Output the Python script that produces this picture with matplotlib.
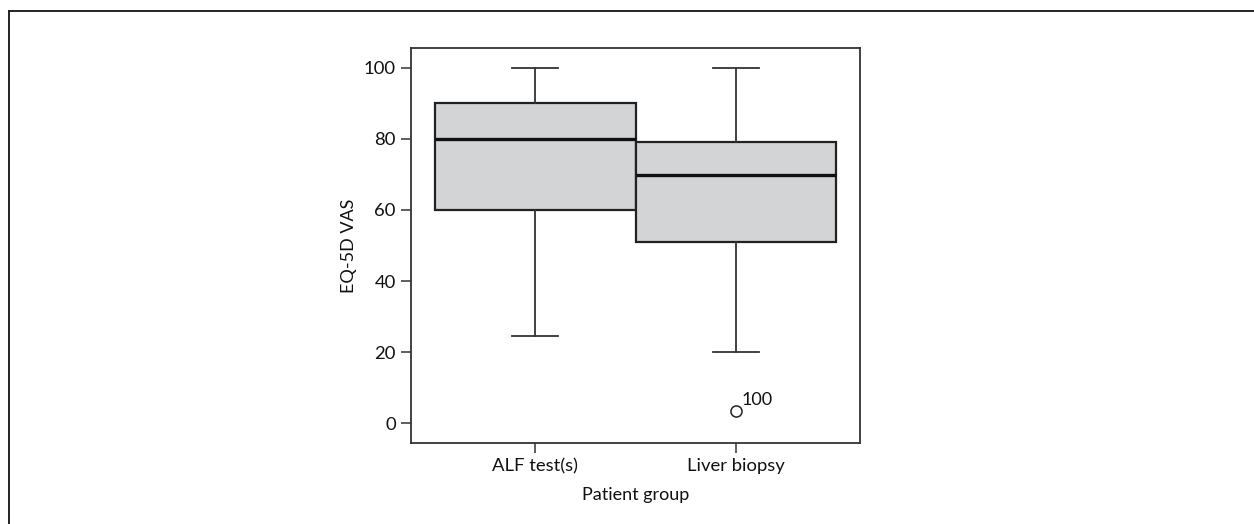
import matplotlib
matplotlib.use("Agg")
import matplotlib.pyplot as plt
from matplotlib.lines import Line2D

plt.rcParams['font.family'] = ['Lato', 'DejaVu Sans']

# box summary values
groups = ["ALF test(s)", "Liver biopsy"]
q1 = [60, 51]
med = [80, 69.8]
q3 = [90, 79]
whislo = [24.6, 20]
whishi = [100, 100]
fliers = [[], [3.4]]
flier_labels = [[], ["100"]]
yticks = [0, 20, 40, 60, 80, 100]

stats = []
for i in range(len(groups)):
    stats.append(dict(label=groups[i], q1=q1[i], med=med[i], q3=q3[i],
                      whislo=whislo[i], whishi=whishi[i], fliers=fliers[i]))

fig = plt.figure(figsize=(12.54, 5.24), dpi=100)
ax = fig.add_axes([0.3278, 0.1546, 0.358, 0.7538])

edge = '#222222'
ax.bxp(stats, positions=[1, 2], widths=1.0, capwidths=0.23, patch_artist=True,
       boxprops=dict(facecolor='#d3d4d6', edgecolor=edge, linewidth=1.6),
       medianprops=dict(color='#111111', linewidth=2.4),
       whiskerprops=dict(color='#333333', linewidth=1.3),
       capprops=dict(color='#333333', linewidth=1.3),
       flierprops=dict(marker='o', markersize=8, markerfacecolor='white',
                       markeredgecolor='#222222', markeredgewidth=1.1))

# outlier case labels
for i in range(len(groups)):
    for v, lab in zip(fliers[i], flier_labels[i]):
        ax.annotate(lab, (i + 1, v), xytext=(4, 2), textcoords='offset points',
                    fontsize=13, ha='left', va='bottom', color='#111111')

ax.set_xlim(0.383, 2.617)
ax.set_ylim(-5.6, 105.6)
ax.set_yticks(yticks)
ax.set_xticks([1, 2])
ax.set_xticklabels(groups)
ax.tick_params(direction='out', length=7, width=1.1, color='#333333',
               labelsize=13.3, pad=4, labelcolor='#111111')
for s in ax.spines.values():
    s.set_color('#333333')
    s.set_linewidth(1.3)

ax.set_xlabel("Patient group", fontsize=13, labelpad=9, color='#111111')
ax.set_ylabel("EQ-5D VAS", fontsize=13, labelpad=5, color='#111111')

# outer frame (only top and left edges show)
fig.add_artist(Line2D([9 / 1254, 1], [1 - 11 / 524, 1 - 11 / 524],
                      transform=fig.transFigure, color='#222222', linewidth=1.4))
fig.add_artist(Line2D([9 / 1254, 9 / 1254], [0, 1 - 11 / 524],
                      transform=fig.transFigure, color='#222222', linewidth=1.4))

fig.savefig("out.png", dpi=100)
